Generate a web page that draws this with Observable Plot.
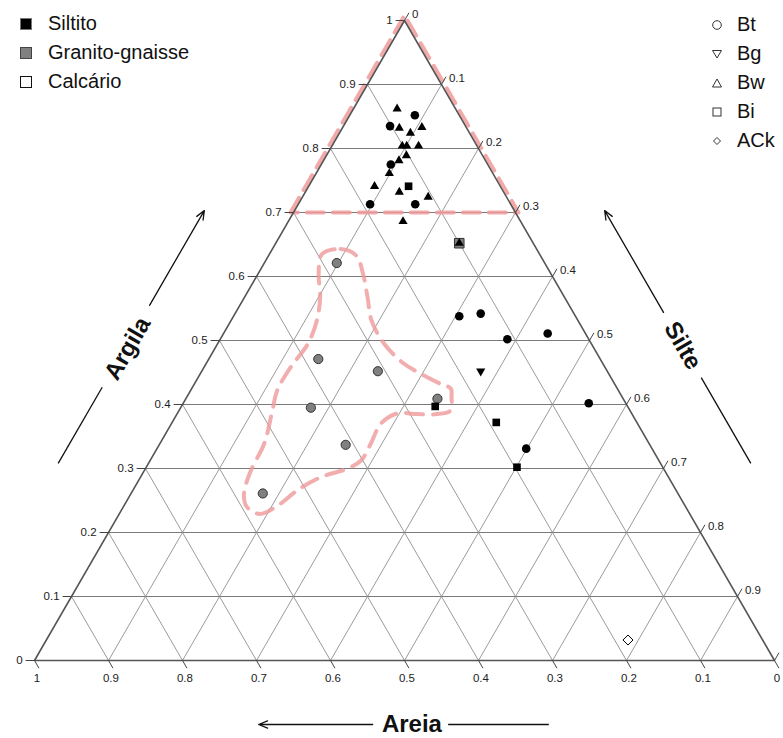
<!DOCTYPE html>
<html><head><meta charset="utf-8">
<script src="https://cdn.jsdelivr.net/npm/d3@7"></script>
<script src="https://cdn.jsdelivr.net/npm/@observablehq/plot@0.6"></script>
<style>
body{margin:0;background:#fff;font-family:Arial,"Liberation Sans",sans-serif;}
#wrap{position:relative;width:783px;height:738px;overflow:hidden;}
#chart{position:absolute;left:0;top:0;}
.row{position:absolute;display:flex;align-items:center;height:29px;white-space:nowrap;color:#111;}
.row span{display:inline-block;}
</style></head><body>
<div id="wrap"><div id="chart"></div><div id="legL"></div><div id="legR"></div></div>
<script>
// ---- data: [areia, silte, argila] ----
const siltitoBt = [
  [0.060,0.088,0.852],[0.102,0.063,0.835],[0.131,0.094,0.775],[0.190,0.097,0.713],
  [0.129,0.158,0.713],[0.157,0.305,0.538],[0.126,0.332,0.542],[0.110,0.388,0.502],
  [0.051,0.438,0.511],[0.050,0.548,0.402],[0.170,0.499,0.331]
];
const siltitoBw = [
  [0.079,0.059,0.862],[0.091,0.077,0.832],[0.060,0.107,0.833],[0.080,0.096,0.824],
  [0.101,0.095,0.804],[0.095,0.101,0.804],[0.079,0.117,0.804],[0.103,0.108,0.789],
  [0.117,0.102,0.781],[0.140,0.099,0.761],[0.170,0.089,0.741],[0.141,0.127,0.732],
  [0.106,0.170,0.724],[0.159,0.155,0.686],[0.100,0.248,0.652]
];
const siltitoBi = [[0.124,0.135,0.741],[0.260,0.343,0.397],[0.190,0.438,0.372],[0.197,0.501,0.302]];
const siltitoBg = [[0.171,0.377,0.452]];
const granitoBt = [
  [0.281,0.098,0.621],[0.381,0.148,0.471],[0.310,0.238,0.452],[0.251,0.340,0.409],
  [0.429,0.176,0.395],[0.411,0.252,0.337],[0.561,0.178,0.261]
];
const granitoBi = [[0.100,0.248,0.652]];
const calcarioACk = [[0.182,0.786,0.032]];

// dashed zones: [silte, argila]
const zonaTopo = [[-0.004,0.7],[-0.004,1.008],[0.304,0.7]];
const zonaGranito = [
  [0.071,0.635],[0.092,0.643],[0.118,0.633],[0.142,0.604],[0.166,0.568],[0.190,0.531],
  [0.225,0.495],[0.267,0.464],[0.298,0.448],[0.333,0.432],[0.350,0.425],[0.358,0.411],
  [0.367,0.391],[0.351,0.385],[0.324,0.385],[0.297,0.386],[0.283,0.370],[0.285,0.339],
  [0.285,0.3125],[0.273,0.300],[0.243,0.286],[0.222,0.266],[0.210,0.245],[0.190,0.229],
  [0.167,0.240],[0.153,0.260],[0.144,0.297],[0.141,0.339],[0.126,0.391],[0.117,0.422],
  [0.117,0.458],[0.122,0.495],[0.116,0.531],[0.102,0.568],[0.082,0.604]
];

const tickValues = [0,0.1,0.2,0.3,0.4,0.5,0.6,0.7,0.8,0.9,1];
const tickLabels = ["0","0.1","0.2","0.3","0.4","0.5","0.6","0.7","0.8","0.9","1"];
const gridValues = [0.1,0.2,0.3,0.4,0.5,0.6,0.7,0.8,0.9];

const rocks = ["Siltito","Granito-gnaisse","Calcário"];
const horizons = ["Bt","Bg","Bw","Bi","ACk"];

// ---- helpers ----
const X = (s, c) => s + c / 2;
const T = 0.012; // tick length in composition units

const triDown = {draw(ctx, size){const a=Math.sqrt(size/(Math.sqrt(3)/4));const h=a*Math.sqrt(3)/2;
  ctx.moveTo(0,2*h/3);ctx.lineTo(a/2,-h/3);ctx.lineTo(-a/2,-h/3);ctx.closePath();}};
const triUp = {draw(ctx, size){const a=Math.sqrt(size/(Math.sqrt(3)/4));const h=a*Math.sqrt(3)/2;
  ctx.moveTo(0,-2*h/3);ctx.lineTo(a/2,h/3);ctx.lineTo(-a/2,h/3);ctx.closePath();}};
const diamond = {draw(ctx, size){const r=Math.sqrt(size/2);
  ctx.moveTo(0,-r);ctx.lineTo(r,0);ctx.lineTo(0,r);ctx.lineTo(-r,0);ctx.closePath();}};

const pts = arr => arr.map(([a,s,c]) => ({a, s, c}));
const zone = arr => arr.map(([s,c]) => ({s, c}));

const gridArg = gridValues.map(k => ({s1:0, c1:k, s2:1-k, c2:k}));
const gridAre = gridValues.map(k => ({s1:1-k, c1:0, s2:0, c2:1-k}));
const gridSil = gridValues.map(k => ({s1:k, c1:0, s2:k, c2:1-k}));
const border = zone([[0,0],[0,1],[1,0]]);

const tickArg = tickValues.map((k,i) => ({s1:0, c1:k, s2:-T, c2:k, label: tickLabels[i]}));
const tickSil = tickValues.map((k,i) => ({s1:k, c1:1-k, s2:k, c2:1-k+T, label: tickLabels[i]}));
const tickAre = tickValues.map((k,i) => ({s1:1-k, c1:0, s2:1-k+T, c2:-T, label: tickLabels[i]}));

// axis titles and arrows (outside the triangle, in [silte, argila])
const titles = [
  {label:"Argila", s:-0.118, c:0.4875, rotate:-60},
  {label:"Silte",  s:1.122-0.492, c:0.492, rotate:60},
  {label:"Areia",  s:0.560, c:-0.10, rotate:0}
];
const arrows = [
  {s1:-0.122, c1:0.555, s2:-0.122, c2:0.703},
  {s1:1.122-0.544, c1:0.544, s2:1.122-0.703, c2:0.703},
  {s1:0.507, c1:-0.10, s2:0.353, c2:-0.10}
];
const plainLines = [
  {s1:-0.122, c1:0.308, s2:-0.122, c2:0.427},
  {s1:1.122-0.442, c1:0.442, s2:1.122-0.308, c2:0.308},
  {s1:0.609, c1:-0.10, s2:0.745, c2:-0.10}
];

const lk = {x1: d => X(d.s1,d.c1), y1: d => d.c1, x2: d => X(d.s2,d.c2), y2: d => d.c2};
const px = d => X(d.s, d.c), py = d => d.c;
const font = "Arial, 'Liberation Sans', sans-serif";

const chart = Plot.plot({
  width: 783, height: 738, margin: 0,
  x: {domain:[0,1], range:[34,774], axis:null},
  y: {domain:[0,1], range:[660,20], axis:null},
  style: {fontFamily: font, background: "white"},
  marks: [
    Plot.link(gridArg, {...lk, stroke:"#7a7a7a", strokeWidth:1}),
    Plot.link(gridAre, {...lk, stroke:"#8f8f8f", strokeWidth:0.9}),
    Plot.link(gridSil, {...lk, stroke:"#8f8f8f", strokeWidth:0.9}),
    Plot.line(zone(zonaTopo), {x:px, y:py, curve:"linear-closed", stroke:"#ef9a9a", strokeWidth:4, strokeDasharray:"17,9", strokeOpacity:0.85}),
    Plot.line(zone(zonaGranito), {x:px, y:py, curve:"catmull-rom-closed", stroke:"#ef9a9a", strokeWidth:4, strokeDasharray:"17,10", strokeOpacity:0.8}),
    Plot.line(border, {x:px, y:py, curve:"linear-closed", stroke:"#555", strokeWidth:1.6}),
    Plot.link(tickArg, {...lk, stroke:"#444"}),
    Plot.link(tickSil, {...lk, stroke:"#444"}),
    Plot.link(tickAre, {...lk, stroke:"#444"}),
    Plot.text(tickArg, {x: d => X(d.s2,d.c2), y: d => d.c2, text:"label", textAnchor:"end", dx:-3, fontSize:11.5, fill:"#222"}),
    Plot.text(tickSil.slice(0,10), {x: d => X(d.s2,d.c2), y: d => d.c2, text:"label", textAnchor:"start", dx:3, dy:1, fontSize:11.5, fill:"#222"}),
    Plot.text(tickAre, {x: d => X(d.s2,d.c2), y: d => d.c2, text:"label", textAnchor:"middle", dx:-2, dy:10, fontSize:11.5, fill:"#222"}),
    // points
    Plot.dot(pts(granitoBt), {x:px, y:py, symbol:"circle", r:4.6, fill:"#808080", stroke:"#333", strokeWidth:1}),
    Plot.dot(pts(granitoBi), {x:px, y:py, symbol:"square", r:5.4, fill:"#808080", stroke:"#333", strokeWidth:1}),
    Plot.dot(pts(siltitoBt), {x:px, y:py, symbol:"circle", r:4.3, fill:"#000", stroke:"none"}),
    Plot.dot(pts(siltitoBw), {x:px, y:py, symbol:triUp, r:3.4, fill:"#000", stroke:"none"}),
    Plot.dot(pts(siltitoBi), {x:px, y:py, symbol:"square", r:4.3, fill:"#000", stroke:"none"}),
    Plot.dot(pts(siltitoBg), {x:px, y:py, symbol:triDown, r:3.4, fill:"#000", stroke:"none"}),
    Plot.dot(pts(calcarioACk), {x:px, y:py, symbol:diamond, r:4, fill:"white", stroke:"#000", strokeWidth:1}),
    // axis titles
    Plot.arrow(arrows, {...lk, stroke:"#111", strokeWidth:1.3, headLength:11, headAngle:45}),
    Plot.link(plainLines, {...lk, stroke:"#111", strokeWidth:1.3}),
    Plot.text(titles, {x:px, y:py, text:"label", rotate:"rotate", fontSize:24, fontWeight:"bold", fill:"#111"})
  ]
});
document.getElementById("chart").append(chart);

// legends
const legL = document.getElementById("legL");
const rockStyle = [["#000","#777"],["#808080","#444"],["#fff","#111"]];
rocks.forEach((r,i) => {
  const row = document.createElement("div");
  row.className = "row";
  row.style.left = "20px"; row.style.top = (9 + i*29) + "px"; row.style.fontSize = "20px";
  row.innerHTML = `<span style="width:10px;height:10px;background:${rockStyle[i][0]};border:1px solid ${rockStyle[i][1]};margin-right:16px"></span><span>${r}</span>`;
  legL.append(row);
});
const legR = document.getElementById("legR");
const hzSym = [
  '<circle cx="7" cy="7" r="4.3" fill="none" stroke="#333" stroke-width="1"/>',
  '<path d="M2.5,3.5 L11.5,3.5 L7,11 Z" fill="none" stroke="#333" stroke-width="1"/>',
  '<path d="M2.5,11 L11.5,11 L7,3 Z" fill="none" stroke="#333" stroke-width="1"/>',
  '<rect x="3" y="3" width="8" height="8" fill="none" stroke="#333" stroke-width="1"/>',
  '<path d="M7,3.5 L10.5,7 L7,10.5 L3.5,7 Z" fill="none" stroke="#333" stroke-width="1"/>'
];
horizons.forEach((h,i) => {
  const row = document.createElement("div");
  row.className = "row";
  row.style.left = "710px"; row.style.top = (10 + i*29) + "px"; row.style.fontSize = "20px";
  row.innerHTML = `<svg width="14" height="14" style="margin-right:13px">${hzSym[i]}</svg><span>${h}</span>`;
  legR.append(row);
});
</script></body></html>
